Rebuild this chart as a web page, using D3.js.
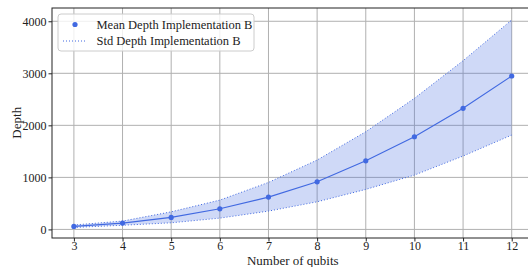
<!DOCTYPE html>
<html>
<head>
<meta charset="utf-8">
<script src="https://cdn.jsdelivr.net/npm/d3@7"></script>
<style>
  body { margin: 0; background: #fff; }
  svg { display: block; }
  text { font-family: "Times New Roman", "Liberation Serif", "DejaVu Serif", serif; fill: #222; }
</style>
</head>
<body>
<svg id="chart" width="528" height="267"></svg>
<script>
// values
const qubits = [3, 4, 5, 6, 7, 8, 9, 10, 11, 12]
const meanDepth = [58, 121, 231, 396, 621, 915, 1319, 1781, 2327, 2948]
const upperDepth = [85, 160, 338, 563, 903, 1333, 1877, 2519, 3242, 4025]
const lowerDepth = [38, 80, 127, 217, 352, 531, 769, 1044, 1410, 1813]
const yTicks = [0, 1000, 2000, 3000, 4000]
const xDomain = [2.55, 12.45]
const yDomain = [-165, 4255]

const color = '#4169e1'
const margin = { top: 8, left: 52 }
const innerW = 481.6
const innerH = 230

const svg = d3.select('#chart')
const g = svg.append('g').attr('transform', `translate(${margin.left},${margin.top})`)

const x = d3.scaleLinear().domain(xDomain).range([0, innerW])
const y = d3.scaleLinear().domain(yDomain).range([innerH, 0])

const data = qubits.map((q, i) => ({ q, mean: meanDepth[i], hi: upperDepth[i], lo: lowerDepth[i] }))

// grid
g.append('g')
  .selectAll('line')
  .data(qubits)
  .enter().append('line')
    .attr('x1', d => x(d)).attr('x2', d => x(d))
    .attr('y1', 0).attr('y2', innerH)
    .attr('stroke', '#b0b0b0').attr('stroke-width', 1)
g.append('g')
  .selectAll('line')
  .data(yTicks)
  .enter().append('line')
    .attr('x1', 0).attr('x2', innerW)
    .attr('y1', d => y(d)).attr('y2', d => y(d))
    .attr('stroke', '#b0b0b0').attr('stroke-width', 1)

// std band
g.append('path')
  .datum(data)
  .attr('fill', color).attr('fill-opacity', 0.25)
  .attr('d', d3.area().x(d => x(d.q)).y0(d => y(d.lo)).y1(d => y(d.hi)))

const dotted = (key) => g.append('path')
  .datum(data)
  .attr('fill', 'none')
  .attr('stroke', color).attr('stroke-width', 1)
  .attr('stroke-dasharray', '1,2')
  .attr('d', d3.line().x(d => x(d.q)).y(d => y(d[key])))
dotted('hi')
dotted('lo')

// mean line + markers
g.append('path')
  .datum(data)
  .attr('fill', 'none')
  .attr('stroke', color).attr('stroke-width', 1.1)
  .attr('d', d3.line().x(d => x(d.q)).y(d => y(d.mean)))
g.selectAll('.dot')
  .data(data)
  .enter().append('circle')
    .attr('class', 'dot')
    .attr('cx', d => x(d.q)).attr('cy', d => y(d.mean))
    .attr('r', 2.6)
    .attr('fill', color)

// axes
const xAxis = g.append('g')
  .attr('transform', `translate(0,${innerH})`)
  .call(d3.axisBottom(x).tickValues(qubits).tickSize(3.5).tickPadding(0).tickFormat(d3.format('d')))
const yAxis = g.append('g')
  .call(d3.axisLeft(y).tickValues(yTicks).tickSize(3.5).tickPadding(2).tickFormat(d3.format('d')))
;[xAxis, yAxis].forEach(a => {
  a.select('.domain').remove()
  a.attr('font-family', null)
  a.selectAll('text').attr('font-size', 12).attr('fill', '#222')
  a.selectAll('line').attr('stroke', '#222')
})

// spines
g.append('rect')
  .attr('x', 0).attr('y', 0).attr('width', innerW).attr('height', innerH)
  .attr('fill', 'none').attr('stroke', '#222').attr('stroke-width', 1)

// axis labels
svg.append('text')
  .attr('x', margin.left + x(7.5)).attr('y', 264.5)
  .attr('text-anchor', 'middle').attr('font-size', 13)
  .text('Number of qubits')
svg.append('text')
  .attr('transform', `translate(21,${margin.top + y(2050)}) rotate(-90)`)
  .attr('text-anchor', 'middle').attr('font-size', 13)
  .text('Depth')

// legend
const lg = svg.append('g').attr('transform', 'translate(58,14)')
lg.append('rect')
  .attr('width', 196).attr('height', 37).attr('rx', 3)
  .attr('fill', '#fff').attr('fill-opacity', 0.8)
  .attr('stroke', '#ccc').attr('stroke-width', 1)
lg.append('circle').attr('cx', 17).attr('cy', 10.5).attr('r', 2.6).attr('fill', color)
lg.append('line')
  .attr('x1', 5).attr('x2', 29).attr('y1', 27).attr('y2', 27)
  .attr('stroke', color).attr('stroke-width', 1).attr('stroke-dasharray', '1,2')
lg.append('text').attr('x', 38.5).attr('y', 14.5).attr('font-size', 12.5).text('Mean Depth Implementation B')
lg.append('text').attr('x', 38.5).attr('y', 31).attr('font-size', 12.5).text('Std Depth Implementation B')
</script>
</body>
</html>
